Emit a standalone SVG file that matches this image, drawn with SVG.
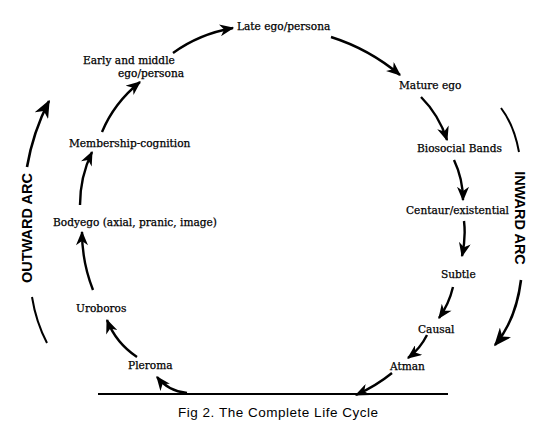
<svg xmlns="http://www.w3.org/2000/svg" width="560" height="433" viewBox="0 0 560 433">
<defs>
<marker id="ah" viewBox="0 0 12 10" refX="11" refY="5" markerWidth="15" markerHeight="12" orient="auto" markerUnits="userSpaceOnUse"><path d="M0,0 L12,5 L0,10 L3.5,5 z" fill="#000"/></marker>
<marker id="ahb" viewBox="0 0 12 10" refX="11" refY="5" markerWidth="18" markerHeight="15" orient="auto" markerUnits="userSpaceOnUse"><path d="M0,0 L12,5 L0,10 L3.5,5 z" fill="#000"/></marker>
<style>
.lbl{font-family:"DejaVu Serif","Liberation Serif",serif;font-size:10.6px;fill:#000;stroke:#000;stroke-width:0.25}
.arc{font-family:"Liberation Sans",Arial,sans-serif;font-size:14.5px;font-weight:bold;fill:#000}
.cap{font-family:"Liberation Sans",Arial,sans-serif;font-size:13.5px;fill:#000}
.c{fill:none;stroke:#000;stroke-width:2.4;marker-end:url(#ah)}
.a{fill:none;stroke:#000;stroke-width:2}
.ab{fill:none;stroke:#000;stroke-width:2.6;marker-end:url(#ahb)}
</style>
</defs>
<rect width="560" height="433" fill="#fff"/>
<g id="late"><text class="lbl" x="237" y="30">Late ego/persona</text></g>
<g id="early"><text class="lbl" x="83" y="64">Early and middle</text><text class="lbl" x="118" y="76.5">ego/persona</text></g>
<g id="membership"><text class="lbl" x="69" y="147">Membership-cognition</text></g>
<g id="bodyego"><text class="lbl" x="53" y="226">Bodyego (axial, pranic, image)</text></g>
<g id="uroboros"><text class="lbl" x="76" y="312">Uroboros</text></g>
<g id="pleroma"><text class="lbl" x="128" y="369">Pleroma</text></g>
<g id="mature"><text class="lbl" x="399" y="89">Mature ego</text></g>
<g id="biosocial"><text class="lbl" x="417" y="152">Biosocial Bands</text></g>
<g id="centaur"><text class="lbl" x="406" y="214">Centaur/existential</text></g>
<g id="subtle"><text class="lbl" x="441" y="278">Subtle</text></g>
<g id="causal"><text class="lbl" x="418" y="333">Causal</text></g>
<g id="atman"><text class="lbl" x="390" y="370">Atman</text></g>
<g id="outward"><text class="arc" transform="translate(32,228) rotate(-90)" text-anchor="middle">OUTWARD ARC</text></g>
<g id="inward"><text class="arc" transform="translate(515,218) rotate(90)" text-anchor="middle">INWARD ARC</text></g>
<g id="caption"><text class="cap" x="178" y="417" textLength="200" lengthAdjust="spacing">Fig 2. The Complete Life Cycle</text></g>
<g id="baseline"><line x1="98" y1="394" x2="448" y2="394" stroke="#000" stroke-width="2.2"/></g>
<g id="connectors">
<path class="c" d="M173,53 Q199,34 233,28"/>
<path class="c" d="M331,37 Q369,49 400,75"/>
<path class="c" d="M421,97 Q439,115 447,140"/>
<path class="c" d="M454,160 Q463,179 463,200"/>
<path class="c" d="M464,221 Q466,238 462,256"/>
<path class="c" d="M453,287 Q449,304 439,318"/>
<path class="c" d="M427,335 Q420,349 408,358"/>
<path class="c" d="M392,373 Q376,386 356,395"/>
<path class="c" d="M187,393 Q168,391 157,377"/>
<path class="c" d="M137,357 Q116,343 107,320"/>
<path class="c" d="M93,290 Q82,262 82,232"/>
<path class="c" d="M80,205 Q80,177 92,152"/>
<path class="c" d="M102,132 Q114,103 140,82"/>
<path class="ab" d="M27,167 Q33,132 49,101"/>
<path class="a" d="M32,297 Q36,322 47,343"/>
<path class="a" d="M501,108 Q514,125 519,152"/>
<path class="ab" d="M521,280 Q516,320 495,345"/>
</g>
</svg>
